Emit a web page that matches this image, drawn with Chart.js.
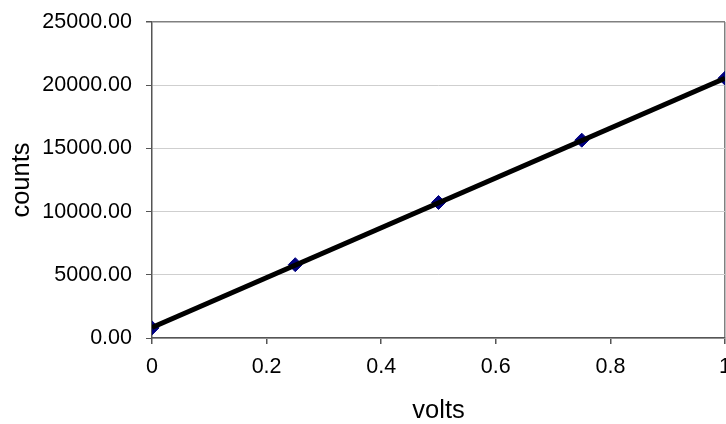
<!DOCTYPE html>
<html>
<head>
<meta charset="utf-8">
<script src="https://cdn.jsdelivr.net/npm/chart.js@4/dist/chart.umd.min.js"></script>
<style>
    html, body { margin: 0; padding: 0; background: #fff; overflow: hidden; }
    #wrap { width: 726px; height: 424px; }
</style>
</head>
<body>
<div id="wrap"><canvas id="graph_counts"></canvas></div>
<script>
const volts = [0, 0.25, 0.5, 0.75, 1];
const counts = [800, 5800, 10720, 15650, 20550];

// linear trendline, both ends
const trendVolts = [0, 1];
const trendCounts = [830, 20553];

const tickFont = { family: "'Liberation Sans', Arial, sans-serif", size: 21.5 };
const titleFont = { family: "'Liberation Sans', Arial, sans-serif", size: 25.5, lineHeight: 1 };

const pts = volts.map((v, i) => ({ x: v, y: counts[i] }));
const trend = trendVolts.map((v, i) => ({ x: v, y: trendCounts[i] }));

Chart.defaults.color = '#000';

let ctx = document.getElementById('graph_counts').getContext('2d');
const graph_counts = new Chart(ctx, {
    type: 'scatter',
    data: {
        datasets: [{
            label: 'trend',
            data: trend,
            showLine: true,
            borderColor: '#000',
            borderWidth: 5,
            pointRadius: 0,
            order: 0
        },
        {
            label: 'counts',
            data: pts,
            pointStyle: 'rectRot',
            pointRadius: 7,
            pointBorderWidth: 1,
            backgroundColor: '#000080',
            borderColor: '#000080',
            order: 1
        }]
    },
    options: {
        responsive: true,
        maintainAspectRatio: false,
        animation: false,
        layout: { autoPadding: false, padding: { top: 22, right: 1, left: 0, bottom: 0 } },
        plugins: { legend: { display: false }, tooltip: { enabled: false } },
        scales: {
            x: {
                type: 'linear',
                min: 0,
                max: 1,
                ticks: {
                    stepSize: 0.2,
                    font: tickFont,
                    padding: 10.5,
                    maxRotation: 0,
                    callback: v => String(Math.round(v * 10) / 10)
                },
                grid: {
                    color: c => (c.tick && c.tick.value === 1) ? '#808080' : 'rgba(0,0,0,0)',
                    tickColor: '#555',
                    tickLength: 6,
                    lineWidth: 1.5
                },
                border: { color: '#555', width: 1.5 },
                title: { display: true, text: 'volts', font: titleFont, padding: { top: 0, bottom: 0 } },
                afterFit: scale => { scale.paddingRight = 0; scale.paddingLeft = 0; scale.height = 86; }
            },
            y: {
                min: 0,
                max: 25000,
                ticks: { stepSize: 5000, font: tickFont, padding: 14, callback: v => v.toFixed(2) },
                grid: {
                    color: c => (c.tick && c.tick.value === 25000) ? '#808080' : '#cfcfcf',
                    lineWidth: c => (c.tick && c.tick.value === 25000) ? 1.5 : 1,
                    tickColor: '#555',
                    tickLength: 6
                },
                border: { color: '#555', width: 1.5 },
                title: { display: true, text: 'counts', font: titleFont, padding: { top: 9, bottom: 0 } },
                afterFit: scale => { scale.paddingTop = 0; scale.paddingBottom = 0; scale.width = 152; }
            }
        }
    }
});
</script>
</body>
</html>
